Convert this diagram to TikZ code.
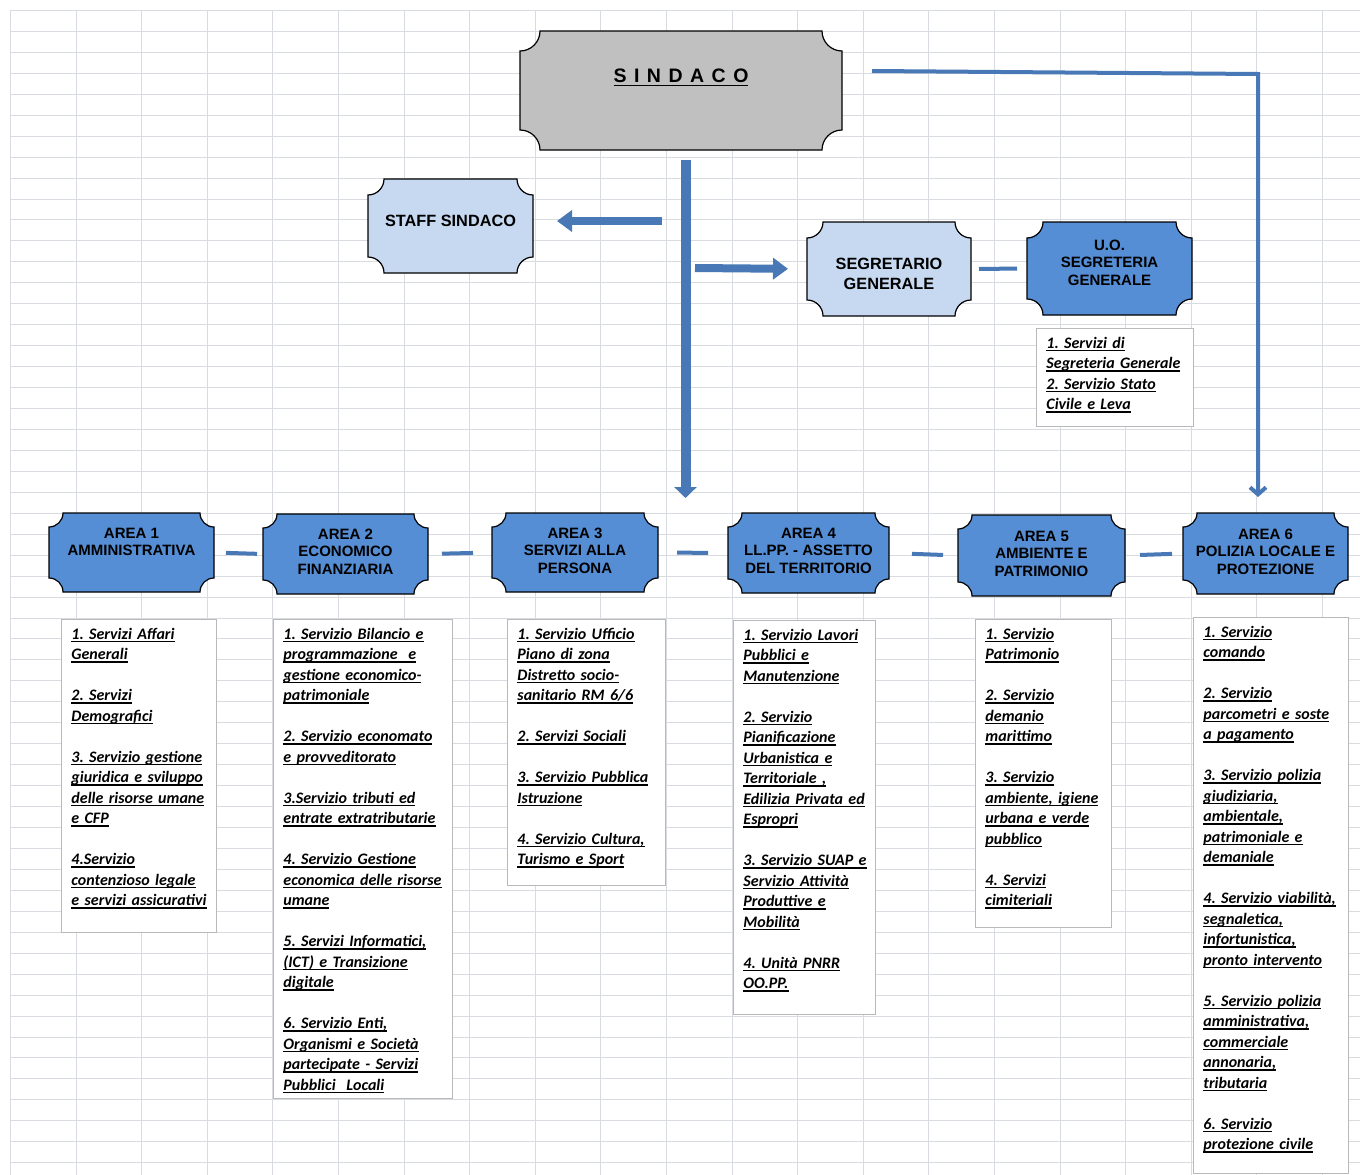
\documentclass[tikz,border=0pt]{standalone}
\usepackage{fontspec}
\setmainfont{Carlito}
\newfontfamily\hdrfont{Liberation Sans}
\usetikzlibrary{arrows.meta}
\definecolor{sindgray}{RGB}{192,192,192}
\definecolor{paleblue}{RGB}{198,217,240}
\definecolor{areablue}{RGB}{85,142,213}
\definecolor{linkblue}{RGB}{72,120,181}
\definecolor{gridgray}{RGB}{216,219,224}
\definecolor{boxgray}{RGB}{185,185,185}
\pgfdeclarelayer{grid}
\pgfdeclarelayer{plaques}
\pgfsetlayers{grid,plaques,main}
\frenchspacing

\begin{document}
\begin{tikzpicture}[x=1pt,y=-1pt]
 \tikzstyle{plaque} = [inner sep=0pt,outer sep=0pt]
 \tikzstyle{hdr} = [anchor=north,inner sep=0pt,align=center,font=\hdrfont\bfseries\fontsize{15}{17.5}\selectfont]
 \tikzstyle{bighdr} = [hdr,font=\hdrfont\bfseries\fontsize{16.3}{19.5}\selectfont]
 \tikzstyle{listbox} = [draw=boxgray,fill=white,line width=0.9pt,anchor=north west,align=left,
                        inner xsep=10pt,inner ysep=7pt,font=\bfseries\itshape\fontsize{16}{20.5}\selectfont]
 \tikzstyle{gridline} = [gridgray,line width=1pt]
 \tikzstyle{link} = [linkblue,line width=4pt]
 \tikzstyle{blockarrow} = [linkblue,line width=8pt,-{Triangle[length=15pt,width=21pt]}]
 \tikzstyle{thinarrow} = [linkblue,line width=4pt,-{Straight Barb[length=7pt,width=16pt]}]
 \newcommand{\ulin}[1]{\leavevmode\setbox0=\hbox{\rule{0pt}{13pt}#1}\rlap{\rule[-0.17em]{\wd0}{0.08em}}\box0}

 \useasboundingbox (0,0) rectangle (1360,1175);

% Sheet grid
 \begin{pgfonlayer}{grid}
  \fill[white] (0,0) rectangle (1360,1175);
  \foreach \k in {0,...,55} \draw[gridline] (10,{round(10+20.95*\k)+0.5}) -- (1360,{round(10+20.95*\k)+0.5});
  \foreach \k in {0,...,20} \draw[gridline] ({round(10+65.6*\k)+0.5},10) -- ({round(10+65.6*\k)+0.5},1175);
 \end{pgfonlayer}

% Top level
 \node[plaque,minimum width=322pt,minimum height=119pt,
   label={[hdr,font=\hdrfont\bfseries\fontsize{19.5}{22}\selectfont,yshift=-38pt]north:{\ulin{S\hspace{7.5pt}I\hspace{7.5pt}N\hspace{7.5pt}D\hspace{7.5pt}A\hspace{7.5pt}C\hspace{7.5pt}O}}}] (sindaco) at (681,90.5) {};
 \node[plaque,minimum width=165pt,minimum height=94pt,label={[bighdr,yshift=-36pt]north:STAFF SINDACO}] (staff) at (450.5,226) {};
 \node[plaque,minimum width=164pt,minimum height=94pt,label={[bighdr,yshift=-36pt]north:{SEGRETARIO\\GENERALE}}] (segr) at (889,269) {};
 \node[plaque,minimum width=165pt,minimum height=93pt,label={[hdr,yshift=-17.5pt]north:{U.O.\\SEGRETERIA\\GENERALE}}] (uo) at (1109.5,268.5) {};

% Areas
 \node[plaque,minimum width=165pt,minimum height=79pt,label={[hdr,yshift=-14.5pt]north:{AREA 1\\AMMINISTRATIVA}}] (area1) at (131.5,552.5) {};
 \node[plaque,minimum width=165pt,minimum height=80pt,label={[hdr,yshift=-14.5pt]north:{AREA 2\\ECONOMICO\\FINANZIARIA}}] (area2) at (345.5,554) {};
 \node[plaque,minimum width=166pt,minimum height=79pt,label={[hdr,yshift=-14.5pt]north:{AREA 3\\SERVIZI ALLA\\PERSONA}}] (area3) at (575,552.5) {};
 \node[plaque,minimum width=161pt,minimum height=80pt,label={[hdr,yshift=-14.5pt]north:{AREA 4\\LL.PP. - ASSETTO\\DEL TERRITORIO}}] (area4) at (808.5,553) {};
 \node[plaque,minimum width=167pt,minimum height=81pt,label={[hdr,yshift=-15.5pt]north:{AREA 5\\AMBIENTE E\\PATRIMONIO}}] (area5) at (1041.5,555.5) {};
 \node[plaque,minimum width=165pt,minimum height=81pt,label={[hdr,yshift=-15.5pt]north:{AREA 6\\POLIZIA LOCALE E\\PROTEZIONE}}] (area6) at (1265.5,553.5) {};

 \begin{pgfonlayer}{plaques}
  \foreach \n/\rad/\c in {sindaco/20/sindgray,staff/16/paleblue,segr/16/paleblue,uo/16/areablue,
                          area1/14/areablue,area2/14/areablue,area3/14/areablue,
                          area4/14/areablue,area5/14/areablue,area6/14/areablue}
   \draw[line width=1.2pt,fill=\c] ([xshift=\rad pt]\n.north west) -- ([xshift=-\rad pt]\n.north east)
     arc[start angle=180,end angle=270,radius=\rad pt] -- ([yshift=\rad pt]\n.south east)
     arc[start angle=90,end angle=180,radius=\rad pt] -- ([xshift=\rad pt]\n.south west)
     arc[start angle=0,end angle=90,radius=\rad pt] -- ([yshift=-\rad pt]\n.north west)
     arc[start angle=270,end angle=360,radius=\rad pt] -- cycle;
 \end{pgfonlayer}

% Service lists
 \node[listbox,text width=137pt,text depth=71pt] (uolist) at (1036,328)
  {\ulin{1. Servizi di}\\ \ulin{Segreteria Generale}\\ \ulin{2. Servizio Stato}\\ \ulin{Civile e Leva}};
 \node[listbox,text width=135pt,text depth=286pt] (list1) at (61,619)
  {\ulin{1. Servizi Affari}\\ \ulin{Generali}\\[20.5pt]
   \ulin{2. Servizi}\\ \ulin{Demografici}\\[20.5pt]
   \ulin{3. Servizio gestione}\\ \ulin{giuridica e sviluppo}\\ \ulin{delle risorse umane}\\ \ulin{e CFP}\\[20.5pt]
   \ulin{4.Servizio}\\ \ulin{contenzioso legale}\\ \ulin{e servizi assicurativi}};
 \node[listbox,text width=159pt,text depth=452pt] (list2) at (273,619)
  {\ulin{1. Servizio Bilancio e}\\ \ulin{programmazione~ e}\\ \ulin{gestione economico-}\\ \ulin{patrimoniale}\\[20.5pt]
   \ulin{2. Servizio economato}\\ \ulin{e provveditorato}\\[20.5pt]
   \ulin{3.Servizio tributi ed}\\ \ulin{entrate extratributarie}\\[20.5pt]
   \ulin{4. Servizio Gestione}\\ \ulin{economica delle risorse}\\ \ulin{umane}\\[20.5pt]
   \ulin{5. Servizi Informatici,}\\ \ulin{(ICT) e Transizione}\\ \ulin{digitale}\\[20.5pt]
   \ulin{6. Servizio Enti,}\\ \ulin{Organismi e Società}\\ \ulin{partecipate - Servizi}\\ \ulin{Pubblici~ Locali}};
 \node[listbox,text width=138pt,text depth=239pt] (list3) at (507,619)
  {\ulin{1. Servizio Ufficio}\\ \ulin{Piano di zona}\\ \ulin{Distretto socio-}\\ \ulin{sanitario RM 6/6}\\[20.5pt]
   \ulin{2. Servizi Sociali}\\[20.5pt]
   \ulin{3. Servizio Pubblica}\\ \ulin{Istruzione}\\[20.5pt]
   \ulin{4. Servizio Cultura,}\\ \ulin{Turismo e Sport}};
 \node[listbox,text width=122pt,text depth=367pt] (list4) at (733,620)
  {\ulin{1. Servizio Lavori}\\ \ulin{Pubblici e}\\ \ulin{Manutenzione}\\[20.5pt]
   \ulin{2. Servizio}\\ \ulin{Pianificazione}\\ \ulin{Urbanistica e}\\ \ulin{Territoriale ,}\\ \ulin{Edilizia Privata ed}\\ \ulin{Espropri}\\[20.5pt]
   \ulin{3. Servizio SUAP e}\\ \ulin{Servizio Attività}\\ \ulin{Produttive e}\\ \ulin{Mobilità}\\[20.5pt]
   \ulin{4. Unità PNRR}\\ \ulin{OO.PP.}};
 \node[listbox,text width=116pt,text depth=281pt] (list5) at (975,619)
  {\ulin{1. Servizio}\\ \ulin{Patrimonio}\\[20.5pt]
   \ulin{2. Servizio}\\ \ulin{demanio}\\ \ulin{marittimo}\\[20.5pt]
   \ulin{3. Servizio}\\ \ulin{ambiente, igiene}\\ \ulin{urbana e verde}\\ \ulin{pubblico}\\[20.5pt]
   \ulin{4. Servizi}\\ \ulin{cimiteriali}};
 \node[listbox,text width=135pt,text depth=529pt] (list6) at (1193,617)
  {\ulin{1. Servizio}\\ \ulin{comando}\\[20.5pt]
   \ulin{2. Servizio}\\ \ulin{parcometri e soste}\\ \ulin{a pagamento}\\[20.5pt]
   \ulin{3. Servizio polizia}\\ \ulin{giudiziaria,}\\ \ulin{ambientale,}\\ \ulin{patrimoniale e}\\ \ulin{demaniale}\\[20.5pt]
   \ulin{4. Servizio viabilità,}\\ \ulin{segnaletica,}\\ \ulin{infortunistica,}\\ \ulin{pronto intervento}\\[20.5pt]
   \ulin{5. Servizio polizia}\\ \ulin{amministrativa,}\\ \ulin{commerciale}\\ \ulin{annonaria,}\\ \ulin{tributaria}\\[20.5pt]
   \ulin{6. Servizio}\\ \ulin{protezione civile}};

% Connectors
 \coordinate (trunkend) at (685.5,498);
 \coordinate (stafffrom) at (662,221);
 \coordinate (segrfrom) at (695,268);
 \coordinate (polfrom) at (872,71);
 \coordinate (polbend) at (1258,74);

 \draw[linkblue,line width=10pt,-{Triangle[length=11pt,width=22pt]},shorten <=10pt] ([xshift=4.5pt]sindaco.south) -- (trunkend);
 \draw[blockarrow,shorten >=24pt] (stafffrom) -- (staff.east |- stafffrom);
 \draw[blockarrow,shorten >=19pt] (segrfrom) -- (segr.west);
 \draw[thinarrow,shorten >=16pt] (polfrom) -- (polbend) -- (polbend |- area6.north);

 \foreach \a/\b/\sa/\sb in {area1/area2/12/6,area2/area3/14/19,area3/area4/19/20,
                            area4/area5/23/15,area5/area6/15/11,segr/uo/8/10}
  \draw[link,shorten <=\sa pt,shorten >=\sb pt] (\a.east) -- (\b.west);

\end{tikzpicture}
\end{document}
